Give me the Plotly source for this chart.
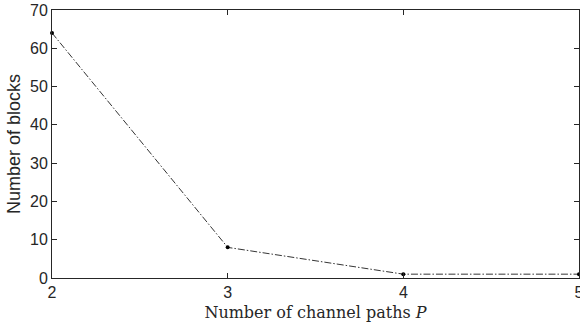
import plotly.graph_objects as go

paths = [2, 3, 4, 5]
blocks = [64, 8, 1, 1]
x_ticks = [2, 3, 4, 5]
y_ticks = [0, 10, 20, 30, 40, 50, 60, 70]

fig = go.Figure()
fig.add_trace(go.Scatter(
    x=paths, y=blocks, mode="lines+markers",
    line=dict(color="black", width=0.8, dash="7px,2px,1.5px,2px"),
    marker=dict(color="black", size=4),
    showlegend=False, cliponaxis=False,
))

axis_common = dict(
    showline=True, linecolor="#262626", linewidth=1, mirror="ticks",
    ticks="inside", ticklen=5, tickcolor="#262626", tickwidth=1,
    showgrid=False, zeroline=False, automargin=False,
)

fig.update_xaxes(
    range=[2, 5], tickvals=x_ticks, ticktext=[str(v) for v in x_ticks],
    tickfont=dict(family="Liberation Sans, Arial", size=16, color="#262626"),
    ticklabeloverflow="allow",
    title=dict(text="Number of channel paths <i>P</i>",
               font=dict(family="DejaVu Serif", size=16, color="#262626"),
               standoff=6),
    **axis_common,
)
fig.update_yaxes(
    range=[0, 70], tickvals=y_ticks, ticktext=[str(v) for v in y_ticks],
    tickfont=dict(family="Liberation Sans, Arial", size=16, color="#262626"),
    title=dict(text="Number of blocks",
               font=dict(family="Liberation Sans, Arial", size=18, color="#262626"),
               standoff=4),
    **axis_common,
)

fig.update_layout(
    width=580, height=326,
    margin=dict(l=52, r=1, t=10, b=48),
    paper_bgcolor="white", plot_bgcolor="white",
)

fig.write_html("out.html")
